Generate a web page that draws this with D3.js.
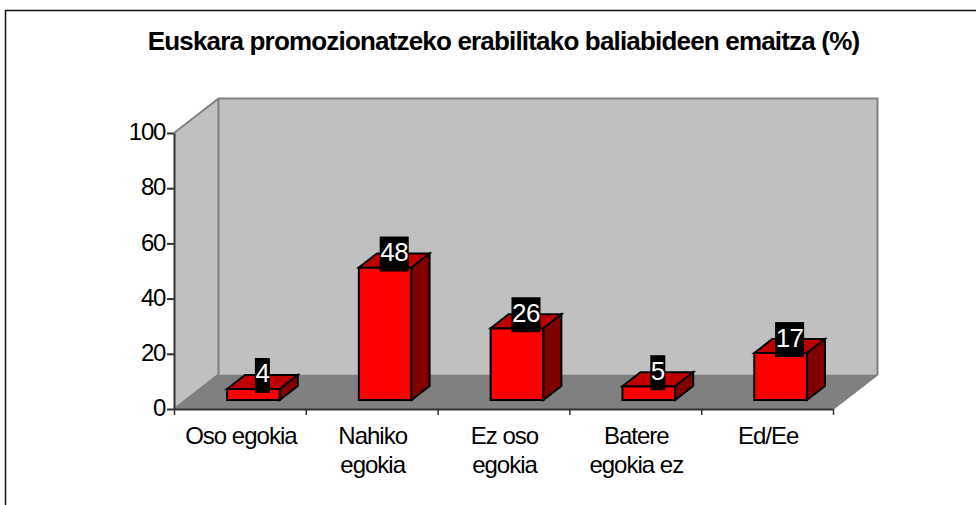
<!DOCTYPE html>
<html><head><meta charset="utf-8">
<script src="https://cdn.jsdelivr.net/npm/d3@7"></script>
<style>html,body{margin:0;padding:0;background:#fff}svg{display:block}text{font-family:"Liberation Sans",Arial,sans-serif}</style>
</head><body><svg id="c" width="976" height="505"></svg>
<script>
const categories = [["Oso egokia"],["Nahiko","egokia"],["Ez oso","egokia"],["Batere","egokia ez"],["Ed/Ee"]];
const values = [4,48,26,5,17];
const yTicks = [0,20,40,60,80,100];
const titleText = "Euskara promozionatzeko erabilitako baliabideen emaitza (%)";

const svg = d3.select("#c");
const x0=174,x1=833,yB=409,yT=133,depthX=44.5,depthY=34.5;
const y = d3.scaleLinear().domain([0,100]).range([yB,yT]);
const xEdge = d3.scaleLinear().domain([0,categories.length]).range([x0,x1]);
const xBand = d3.scaleBand().domain(d3.range(categories.length)).range([x0,x1]).paddingInner(0.6).paddingOuter(0.3);
const poly=(pts,fill,stroke,w)=>svg.append("polygon").attr("points",pts.map(p=>p.join(",")).join(" ")).attr("fill",fill).attr("stroke",stroke||"none").attr("stroke-width",w||0).attr("stroke-linejoin","miter");

// frame
svg.append("path").attr("d","M5.5,505V10.5H976").attr("fill","none").attr("stroke","#111").attr("stroke-width",1.5);
// title
svg.append("text").attr("x",503.5).attr("y",50).attr("text-anchor","middle").attr("font-weight","bold").attr("font-size",26).attr("letter-spacing",-0.82).text(titleText);

// walls
poly([[x0+depthX,yT-depthY],[x1+depthX,yT-depthY],[x1+depthX,yB-depthY],[x0+depthX,yB-depthY]],"#c0c0c0");
poly([[x0,yT],[x0+depthX,yT-depthY],[x0+depthX,yB-depthY],[x0,yB]],"#c0c0c0");
poly([[x0,yB],[x0+depthX,yB-depthY],[x1+depthX,yB-depthY],[x1,yB]],"#808080");
svg.append("path").attr("fill","none").attr("stroke","#808080").attr("stroke-width",2)
 .attr("d",`M${x0},${yT}L${x0+depthX},${yT-depthY}H${x1+depthX}V${yB-depthY}L${x1},${yB}M${x0+depthX},${yT-depthY}V${yB-depthY}L${x0},${yB}`);

// axes
const gy=svg.append("g").attr("transform",`translate(${x0},0)`).call(d3.axisLeft(y).tickValues(yTicks).tickSize(7).tickPadding(2).tickSizeOuter(0));
gy.selectAll("text").attr("font-size",24).attr("letter-spacing",-1.3).attr("fill","#000").attr("font-family",'"Liberation Sans"').attr("dy","0.28em");
gy.selectAll("line,path").attr("stroke","#333").attr("stroke-width",2);
const gx=svg.append("g").attr("transform",`translate(0,${yB})`).call(d3.axisBottom(xEdge).tickValues(d3.range(categories.length+1)).tickFormat("").tickSize(6).tickSizeOuter(0));
gx.selectAll("line").attr("stroke","#333").attr("stroke-width",1.5);
gx.select("path").attr("stroke","#333").attr("stroke-width",2);

// category labels
categories.forEach((lines,i)=>{
  const cx=xEdge(i+0.5)+1;
  lines.forEach((t,j)=>svg.append("text").attr("x",cx).attr("y",443.5+j*29.5).attr("text-anchor","middle").attr("font-size",24).attr("letter-spacing",-1).text(t));
});

// bars
const base=400,dx=18,dy=14,off=13.5;
const bw=xBand.bandwidth();
const h=v=>yB-y(v);
values.forEach((v,i)=>{
  const l=xBand(i)+off, r=l+bw, t=base-h(v);
  poly([[l,t],[r,t],[r,base],[l,base]],"#ff0000","#000",2);
  poly([[l,t],[l+dx,t-dy],[r+dx,t-dy],[r,t]],"#c00000","#000",2);
  poly([[r,t],[r+dx,t-dy],[r+dx,base-dy],[r,base]],"#800000","#000",2);
});
// value labels
values.forEach((v,i)=>{
  const cx=xBand(i)+off+bw/2+9, t=base-h(v), cy=t-13.5;
  const tx=svg.append("text").attr("x",cx).attr("y",cy+7).attr("text-anchor","middle").attr("font-size",26).attr("letter-spacing",-0.5).attr("fill","#fff").text(v);
  const w=String(v).length*14+1;
  svg.insert("rect",()=>tx.node()).attr("x",cx-w/2).attr("y",cy-17.5).attr("width",w).attr("height",35).attr("fill","#000");
});
</script></body></html>
